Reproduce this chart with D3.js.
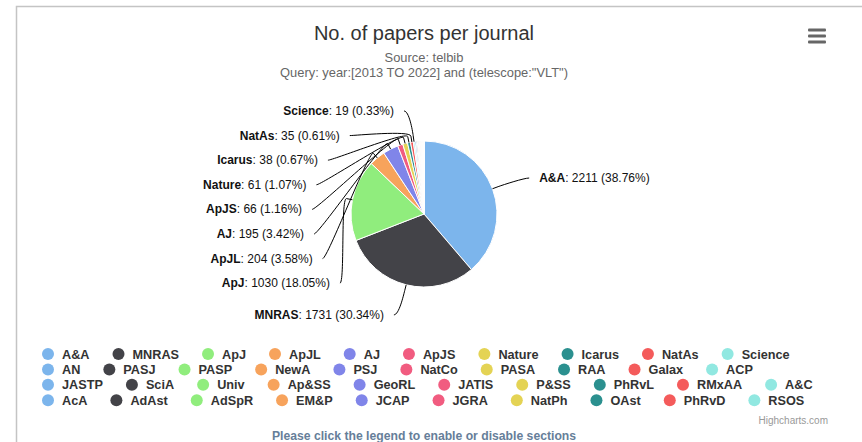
<!DOCTYPE html>
<html>
<head>
<meta charset="utf-8">
<script src="https://cdn.jsdelivr.net/npm/d3@7"></script>
<style>
  body { margin: 0; background: #fff; }
  svg { display: block; font-family: "Liberation Sans", Arial, sans-serif; }
</style>
</head>
<body>
<div id="chart"></div>
<script>
var journals = ["A&A","MNRAS","ApJ","ApJL","AJ","ApJS","Nature","Icarus","NatAs","Science",
  "AN","PASJ","PASP","NewA","PSJ","NatCo","PASA","RAA","Galax","ACP",
  "JASTP","SciA","Univ","Ap&SS","GeoRL","JATIS","P&SS","PhRvL","RMxAA","A&C",
  "AcA","AdAst","AdSpR","EM&P","JCAP","JGRA","NatPh","OAst","PhRvD","RSOS"];
var papers = [2211,1731,1030,204,195,66,61,38,35,19,
  18,13,10,8,7,6,5,5,4,4,
  3,3,3,3,2,2,2,2,2,2,
  2,1,1,1,1,1,1,1,1,1];
var colors = ["#7cb5ec","#434348","#90ed7d","#f7a35c","#8085e9",
  "#f15c80","#e4d354","#2b908f","#f45b5b","#91e8e1"];
var titleText = "No. of papers per journal";
var subtitleLines = ["Source: telbib", "Query: year:[2013 TO 2022] and (telescope:\"VLT\")"];
var labelledCount = 10;

var W = 862, H = 442;
var cx = 424, cy = 214, r = 73;

var svg = d3.select("#chart").append("svg").attr("width", W).attr("height", H);

// outer frame
svg.append("rect")
  .attr("x", 16.5).attr("y", 6.5).attr("width", 900).attr("height", 500)
  .attr("fill", "none").attr("stroke", "#c4c4c4").attr("stroke-width", 1.5);

svg.append("text")
  .attr("x", cx).attr("y", 40)
  .attr("text-anchor", "middle")
  .style("font-size", "20px").style("fill", "#333")
  .text(titleText);

svg.selectAll("text.sub")
  .data(subtitleLines)
  .enter().append("text")
  .attr("class", "sub")
  .attr("x", cx)
  .attr("y", function (d, i) { return 62 + i * 15; })
  .attr("text-anchor", "middle")
  .style("font-size", "12.9px").style("fill", "#666")
  .text(function (d) { return d; });

// menu icon
svg.selectAll("rect.menu")
  .data([0, 1, 2])
  .enter().append("rect")
  .attr("class", "menu")
  .attr("x", 808).attr("y", function (d) { return 28.5 + d * 6; })
  .attr("width", 18).attr("height", 3).attr("rx", 1)
  .attr("fill", "#666");

var total = d3.sum(papers);
var pie = d3.pie().sort(null).value(function (d) { return d; });
var arcs = pie(papers);
var arc = d3.arc().innerRadius(0).outerRadius(r);

var g = svg.append("g").attr("transform", "translate(" + cx + "," + cy + ")");
g.selectAll("path")
  .data(arcs)
  .enter().append("path")
  .attr("d", arc)
  .attr("fill", function (d, i) { return colors[i % colors.length]; })
  .attr("stroke", "#fff").attr("stroke-width", 1)
  .attr("stroke-linejoin", "round");

// data labels
var labelR = 104, spacing = 24.6, ax = 112, by = 104.7;
var labels = arcs.slice(0, labelledCount).map(function (a, i) {
  var mid = (a.startAngle + a.endAngle) / 2;
  return { i: i, mid: mid, left: mid > Math.PI, ideal: cy - labelR * Math.cos(mid) };
});
[true, false].forEach(function (side) {
  var list = labels.filter(function (l) { return l.left === side; })
    .sort(function (a, b) { return a.ideal - b.ideal; });
  var prev = cy - labelR - spacing;
  list.forEach(function (l) {
    l.y = Math.max(l.ideal, prev + spacing);
    prev = l.y;
  });
});
labels.forEach(function (l) {
  var s = l.left ? -1 : 1;
  var t = (l.y - cy) / by;
  l.x = cx + s * ax * Math.sqrt(Math.max(0, 1 - t * t));
  l.s = s;
});

svg.selectAll("path.conn")
  .data(labels)
  .enter().append("path")
  .attr("class", "conn")
  .attr("fill", "none").attr("stroke", "#000").attr("stroke-width", 1)
  .attr("d", function (l) {
    var tx = cx + r * Math.sin(l.mid), ty = cy - r * Math.cos(l.mid);
    var bx = cx + (r + 6) * Math.sin(l.mid), byy = cy - (r + 6) * Math.cos(l.mid);
    return "M" + l.x + "," + l.y +
      "C" + (l.x - l.s * 5) + "," + l.y + " " + (2 * bx - tx) + "," + (2 * byy - ty) + " " + bx + "," + byy +
      "L" + tx + "," + ty;
  });

var lt = svg.selectAll("text.dl")
  .data(labels)
  .enter().append("text")
  .attr("class", "dl")
  .attr("x", function (l) { return l.x + l.s * 10; })
  .attr("y", function (l) { return l.y + 4; })
  .attr("text-anchor", function (l) { return l.left ? "end" : "start"; })
  .style("font-size", "12px").style("fill", "#111");
lt.append("tspan").style("font-weight", "bold").text(function (l) { return journals[l.i]; });
lt.append("tspan").text(function (l) {
  return ": " + papers[l.i] + " (" + (papers[l.i] / total * 100).toFixed(2) + "%)";
});

// legend: 10 items per row, flowing left to right
var perRow = 10, legendX = 42, legendY = 354, rowH = 15.4;
var leg = svg.append("g");
for (var row = 0; row * perRow < journals.length; row++) {
  var x = legendX;
  for (var k = row * perRow; k < Math.min(journals.length, (row + 1) * perRow); k++) {
    var yy = legendY + row * rowH;
    leg.append("circle").attr("cx", x + 6).attr("cy", yy).attr("r", 6)
      .attr("fill", colors[k % colors.length]);
    var t = leg.append("text").attr("x", x + 20).attr("y", yy + 4.5)
      .style("font-size", "12.7px").style("font-weight", "bold").style("fill", "#333")
      .text(journals[k]);
    x += 20 + t.node().getComputedTextLength() + 23;
  }
}

svg.append("text")
  .attr("x", 828).attr("y", 424)
  .attr("text-anchor", "end")
  .style("font-size", "10px").style("fill", "#999")
  .text("Highcharts.com");

svg.append("text")
  .attr("x", 424).attr("y", 440)
  .attr("text-anchor", "middle")
  .style("font-size", "12.2px").style("font-weight", "bold").style("fill", "#667e99")
  .text("Please click the legend to enable or disable sections");
</script>
</body>
</html>
